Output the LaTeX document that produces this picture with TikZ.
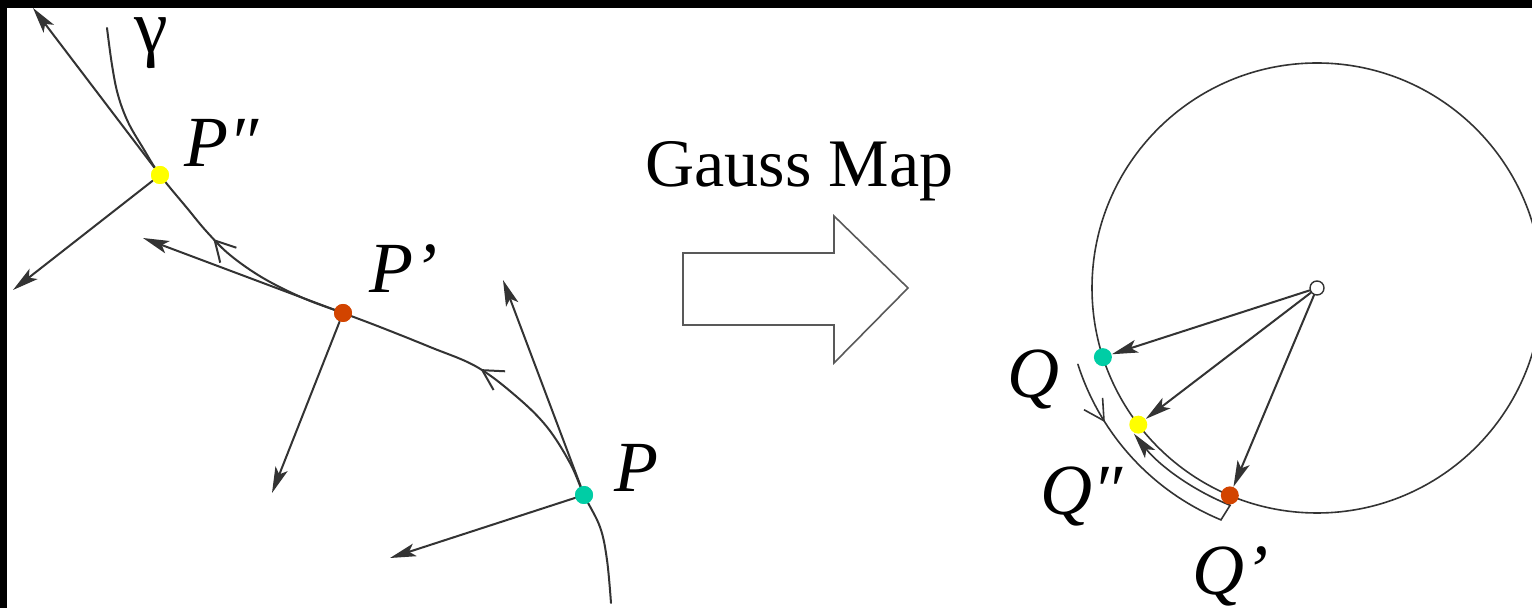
\documentclass[tikz,border=0pt]{standalone}
\usepackage{fontspec}
\setmainfont{Liberation Serif}
\usetikzlibrary{arrows.meta,decorations.markings,calc}
\definecolor{dteal}{RGB}{0,205,165}
\definecolor{dyel}{RGB}{255,255,0}
\definecolor{dred}{RGB}{210,68,0}
\begin{document}
\begin{tikzpicture}[x=0.5pt,y=-0.5pt,
  ln/.style={line width=1pt,draw=black!80,line cap=round},
  vec/.style={ln,-{Stealth[length=13pt,width=6.5pt,inset=3pt]}},
  dot/.style={circle,inner sep=0pt,minimum size=9pt,draw=none},
  lab/.style={font=\fontsize{36}{40}\selectfont\itshape,inner sep=0pt,anchor=base west}
]
\useasboundingbox (0,0) rectangle (1532,608);
\fill[black] (0,0) rectangle (1532,608);
\fill[white] (7,8) rectangle (1532,608);
\clip (7,8) rectangle (1532,608);

% ---------- left: curve gamma ----------
\coordinate (B) at (611,603);
\coordinate (P) at (584,495);
\coordinate (Pp) at (343,313);
\coordinate (Ppp) at (160,175);
\coordinate (T) at (107,28);
\coordinate (tP) at (503,280);
\coordinate (tPp) at (143,238);
\coordinate (tPpp) at (33,8);
\coordinate (nP) at (390,558);
\coordinate (nPp) at (272,493);
\coordinate (nPpp) at (13,290);

\draw[ln,
  decoration={markings,
    mark=at position 0.34 with {\arrow{Straight Barb[length=10pt,width=11pt]}},
    mark=at position 0.705 with {\arrow{Straight Barb[length=10pt,width=11pt]}}},
  postaction={decorate}]
  plot[smooth,tension=0.6] coordinates {(B) (607,560) (600,527) (P) (570,463) (547,427)
    (517,397) (477,367) (430,347) (380,327) (Pp) (303,298) (263,278) (230,255)
    (207,232) (187,208) (Ppp) (143,148) (128,122) (118,95) (112,65) (T)};

\node[dot,fill=dteal] (dP) at (P) {};
\node[dot,fill=dred] (dPp) at (Pp) {};
\node[dot,fill=dyel] (dPpp) at (Ppp) {};

\draw[vec] (dP) -- (tP);
\draw[vec] (dP) -- (nP);
\draw[vec] (dPp) -- (tPp);
\draw[vec] (dPp) -- (nPp);
\draw[vec] (dPpp) -- (tPpp);
\draw[vec] (dPpp) -- (nPpp);

\node[dot,fill=dteal] at (P) {};
\node[dot,fill=dred] at (Pp) {};
\node[dot,fill=dyel] at (Ppp) {};

\node[font=\fontsize{38}{42}\selectfont,inner sep=0pt,anchor=base] (gam) at (151,53) {γ};
\node[lab] (lPpp) at (184,167) {P″};
\node[lab] (lPp) at (369,293) {P'};
\node[lab] (lP) at (614,492) {P};

% ---------- middle: Gauss map arrow ----------
\node[font=\fontsize{34}{38}\selectfont,inner sep=0pt,anchor=base west] (gm) at (645,187) {Gauss Map};
\draw[line width=0.8pt,draw=black!65,line join=miter]
  (683,253) -- (834,253) -- (834,216) -- (908,288) -- (834,363) -- (834,325) -- (683,325) -- cycle;

% ---------- right: unit circle ----------
\coordinate (C) at (1317,288);
\draw[ln,line width=0.8pt] (C) circle[radius=225];
\coordinate (Q) at ($(C)+(162.1:225)$);
\coordinate (Qpp) at ($(C)+(142.6:225)$);
\coordinate (Qp) at ($(C)+(112.8:225)$);

\draw[ln,line width=0.8pt,
  decoration={markings,mark=at position 32pt with {\arrow{Straight Barb[length=10pt,width=11pt]}}},
  postaction={decorate},-{Stealth[length=13pt,width=6.5pt,inset=3pt]}]
  ($(C)+(162.3:251)$) arc[start angle=162.3,end angle=112.5,radius=251]
  -- ($(C)+(111.8:234)$) arc[start angle=111.8,end angle=141.5,radius=234];

\node[circle,draw=black!80,line width=0.7pt,fill=white,inner sep=0pt,minimum size=7pt] (cen) at (C) {};
\node[dot,fill=dteal] (dQ) at (Q) {};
\node[dot,fill=dyel] (dQpp) at (Qpp) {};
\node[dot,fill=dred] (dQp) at (Qp) {};
\draw[vec] (cen) -- (dQ);
\draw[vec] (cen) -- (dQpp);
\draw[vec] (cen) -- (dQp);

\node[lab] (lQ) at (1007,398) {Q};
\node[lab] (lQpp) at (1040,515) {Q″};
\node[lab] (lQp) at (1192,595) {Q'};
\end{tikzpicture}
\end{document}
